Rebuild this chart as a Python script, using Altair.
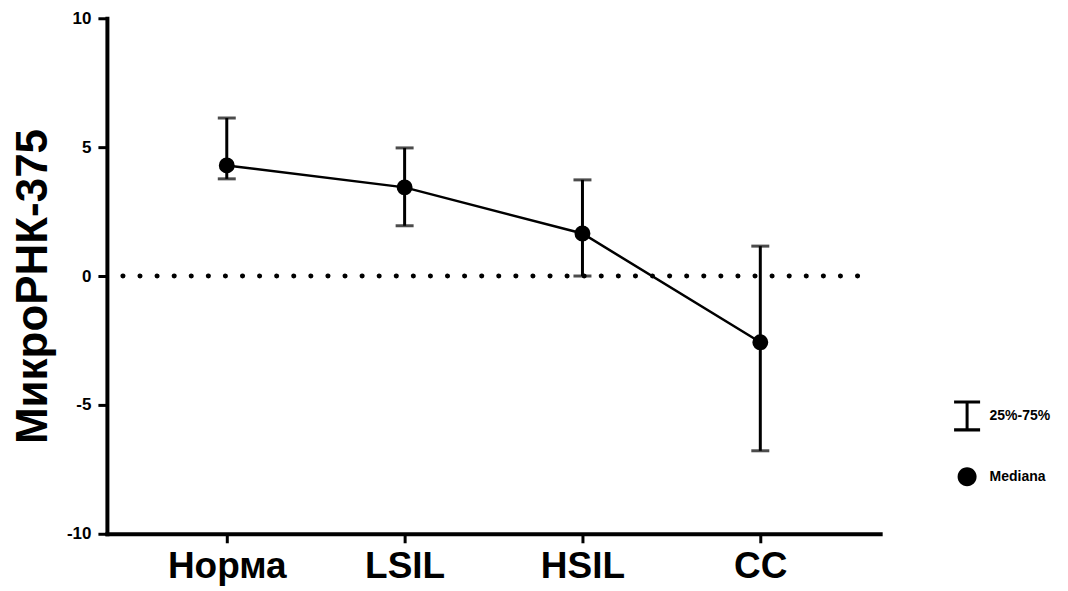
import altair as alt
import pandas as pd

categories = ["Норма", "LSIL", "HSIL", "CC"]
median = [4.29, 3.44, 1.65, -2.57]
q25 = [3.77, 1.95, 0.0, -6.78]
q75 = [6.13, 4.97, 3.73, 1.16]
y_ticks = [-10, -5, 0, 5, 10]
legend_labels = ["25%-75%", "Mediana"]

df = pd.DataFrame({"group": categories, "median": median, "q25": q25, "q75": q75,
                   "leg": ["Mediana"] * len(categories)})

FONT = "Liberation Sans"
W, H = 774, 516

xenc = alt.X("group:N", sort=categories,
             scale=alt.Scale(type="point", padding=0.674),
             axis=alt.Axis(title=None, labelFontSize=37, labelPadding=6, labelAngle=0))
yscale = alt.Scale(domain=[-10, 10], nice=False, zero=False)

base = alt.Chart(df)

zero_line = alt.Chart(pd.DataFrame({"z": [0]})).mark_rule(
    color="black", strokeWidth=5, strokeDash=[0.1, 17], strokeCap="round"
).encode(y=alt.Y("z:Q", scale=yscale), x=alt.value(16), x2=alt.value(766))

rules = base.mark_rule(color="black", strokeWidth=3).encode(
    x=xenc,
    y=alt.Y("q25:Q", scale=yscale,
            axis=alt.Axis(title="МикроРНК-375", values=y_ticks, labelFontSize=17,
                          labelPadding=7,
                          labelExpr="replace(datum.label, '\u2212', '-')",
                          titleFontSize=44, titleX=-73, titleY=268,
                          titleBaseline="middle", titleAngle=270)),
    y2="q75:Q")
cap_lo = base.mark_tick(color="black", thickness=3, size=18).encode(
    x=xenc, y=alt.Y("q25:Q", scale=yscale))
cap_hi = base.mark_tick(color="black", thickness=3, size=18).encode(
    x=xenc, y=alt.Y("q75:Q", scale=yscale))
line = base.mark_line(color="black", strokeWidth=2.5).encode(
    x=xenc, y=alt.Y("median:Q", scale=yscale))
pts = base.mark_circle(color="black", size=254, opacity=1).encode(
    x=xenc, y=alt.Y("median:Q", scale=yscale))

ibeam = ("M-0.84,-1H0.84V-0.806H0.097V0.806H0.84V1H-0.84V0.806H-0.097"
         "V-0.806H-0.84Z")
circ = "M0.613,0A0.613,0.613 0 1,1 -0.613,0A0.613,0.613 0 1,1 0.613,0Z"
leg_layer = base.mark_point(opacity=0, filled=True, color="black").encode(
    x=xenc, y=alt.Y("median:Q", scale=yscale),
    shape=alt.Shape("leg:N", scale=alt.Scale(domain=legend_labels, range=[ibeam, circ]),
                    legend=alt.Legend(title=None, orient="none", legendX=845.5, legendY=382.5,
                                      symbolSize=961, symbolStrokeWidth=0,
                                      symbolFillColor="black",
                                      symbolOpacity=1, rowPadding=30, labelOffset=7,
                                      labelFontSize=14, labelFontWeight="bold",
                                      labelFont=FONT, labelColor="black", padding=0)))

chart = alt.layer(zero_line, rules, cap_lo, cap_hi, line, pts, leg_layer).properties(
    width=W, height=H,
    autosize=alt.AutoSizeParams(type="none"),
    padding={"left": 99, "top": 10, "right": 180, "bottom": 60},
).configure_view(stroke=None).configure_axis(
    labelFont=FONT, titleFont=FONT, labelFontWeight="bold", titleFontWeight="bold",
    labelColor="black", titleColor="black", domainColor="black", tickColor="black",
    domainWidth=4, tickWidth=3, tickSize=9, grid=False, domainCap="square"
)

chart.save("out.html", embed_options={"renderer": "svg", "actions": False})
